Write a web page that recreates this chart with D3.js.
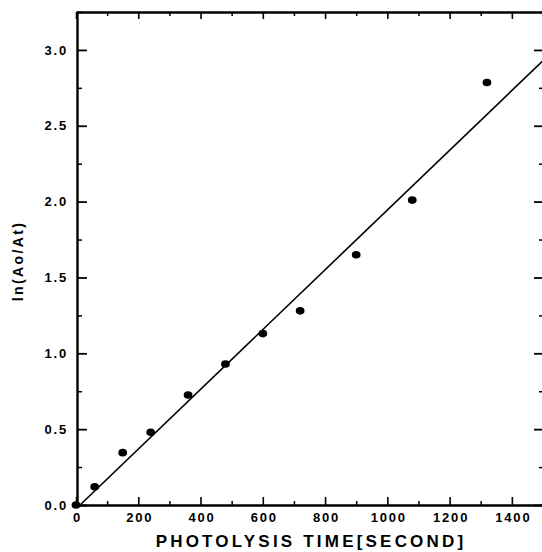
<!DOCTYPE html>
<html>
<head>
<meta charset="utf-8">
<script src="https://cdn.jsdelivr.net/npm/d3@7"></script>
<style>
  html, body { margin: 0; padding: 0; background: #fff; }
  svg { display: block; }
  text { font-family: Arial, "Liberation Sans", Helvetica, sans-serif; font-weight: bold; fill: #000; }
</style>
</head>
<body>
<svg id="chart" width="542" height="552"></svg>
<script>
// ---- data ----
const timeSec = [0, 60, 150, 240, 360, 480, 600, 720, 900, 1080, 1320];
const lnRatio = [0.0, 0.12, 0.345, 0.48, 0.725, 0.93, 1.13, 1.28, 1.65, 2.01, 2.785];
const fitX = [13, 1500];          // fitted line endpoints (seconds)
const fitSlope = 0.00197;
const fitIntercept = -0.0255;
const xTicks = [0, 200, 400, 600, 800, 1000, 1200, 1400];
const xMinorTicks = [100, 300, 500, 700, 900, 1100, 1300, 1500];
const yTicks = [0.0, 0.5, 1.0, 1.5, 2.0, 2.5, 3.0];
const yMinorTicks = [0.25, 0.75, 1.25, 1.75, 2.25, 2.75, 3.25];
const xTitle = "PHOTOLYSIS TIME[SECOND]";
const yTitle = "ln(Ao/At)";

(function () {
// ---- layout ----
const svg = d3.select("#chart");
const mLeft = 76, mRight = 543, mTop = 12, mBottom = 505;
const x = d3.scaleLinear().domain([0, 1500]).range([mLeft, mRight]);
const y = d3.scaleLinear().domain([0, 3.25]).range([mBottom, mTop]);

function styleAxis(g, sw) {
  g.select(".domain").attr("stroke", "#000").attr("stroke-width", 2.4);
  g.selectAll(".tick line").attr("stroke", "#000").attr("stroke-width", sw);
  g.selectAll(".tick text").attr("fill", "#000")
    .style("font-size", "13px").style("letter-spacing", "1.8px").style("font-weight", "bold")
    .attr("font-family", null);
}
function minor(g) {
  g.select(".domain").remove();
  g.selectAll("line").attr("stroke", "#000").attr("stroke-width", 1.5);
}

// bottom axis
const gxb = svg.append("g").attr("transform", `translate(0,${mBottom})`)
  .call(d3.axisBottom(x).tickValues(xTicks).tickSizeInner(-8).tickSizeOuter(0).tickPadding(8)
    .tickFormat(d3.format("d")));
styleAxis(gxb, 1.6);
gxb.selectAll(".tick text").attr("dx", "1px");
svg.append("g").attr("transform", `translate(0,${mBottom})`)
  .call(d3.axisBottom(x).tickValues(xMinorTicks).tickSizeInner(-4).tickSizeOuter(0).tickFormat(""))
  .call(minor);

// top axis
const gxt = svg.append("g").attr("transform", `translate(0,${mTop})`)
  .call(d3.axisTop(x).tickValues(xTicks).tickSizeInner(-7).tickSizeOuter(0).tickFormat(""));
styleAxis(gxt, 1.6);
svg.append("g").attr("transform", `translate(0,${mTop})`)
  .call(d3.axisTop(x).tickValues(xMinorTicks).tickSizeInner(-4).tickSizeOuter(0).tickFormat(""))
  .call(minor);

// left axis
const gyl = svg.append("g").attr("transform", `translate(${mLeft + 1},0)`)
  .call(d3.axisLeft(y).tickValues(yTicks).tickSizeInner(-10).tickSizeOuter(0).tickPadding(9)
    .tickFormat(d3.format(".1f")));
styleAxis(gyl, 1.8);
svg.append("g").attr("transform", `translate(${mLeft + 1},0)`)
  .call(d3.axisLeft(y).tickValues(yMinorTicks).tickSizeInner(-5).tickSizeOuter(0).tickFormat(""))
  .call(minor);

// right axis (mostly off-canvas)
const gyr = svg.append("g").attr("transform", `translate(${mRight},0)`)
  .call(d3.axisRight(y).tickValues(yTicks).tickSizeInner(-9).tickSizeOuter(0).tickFormat(""));
styleAxis(gyr, 1.8);
svg.append("g").attr("transform", `translate(${mRight},0)`)
  .call(d3.axisRight(y).tickValues(yMinorTicks).tickSizeInner(-4).tickSizeOuter(0).tickFormat(""))
  .call(minor);

// fitted line
svg.append("line")
  .attr("x1", x(fitX[0])).attr("y1", y(fitSlope * fitX[0] + fitIntercept))
  .attr("x2", x(fitX[1])).attr("y2", y(fitSlope * fitX[1] + fitIntercept))
  .attr("stroke", "#000").attr("stroke-width", 1.6);

// points
svg.append("g").selectAll("ellipse")
  .data(timeSec.map((t, i) => [t, lnRatio[i]]))
  .join("ellipse")
  .attr("cx", d => x(d[0])).attr("cy", d => y(d[1]))
  .attr("rx", 4.4).attr("ry", 3.8).attr("fill", "#000");

// axis titles
svg.append("text")
  .attr("x", (mLeft + mRight) / 2 + 1.5).attr("y", 546.5)
  .attr("text-anchor", "middle")
  .style("font-size", "17px").style("letter-spacing", "3.2px")
  .text(xTitle);

svg.append("text")
  .attr("transform", "translate(23,261) rotate(-90)")
  .attr("text-anchor", "middle")
  .style("font-size", "14px").style("letter-spacing", "2.4px")
  .text(yTitle);
})();
</script>
</body>
</html>
